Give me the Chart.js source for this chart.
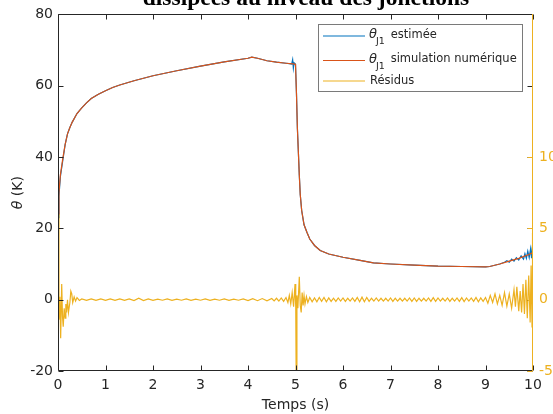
<!DOCTYPE html>
<html><head><meta charset="utf-8">
<script src="https://cdn.jsdelivr.net/npm/chart.js@4/dist/chart.umd.min.js"></script>
<style>html,body{margin:0;padding:0;background:#fff}#wrap{width:553px;height:414px;position:relative}</style>
</head><body><div id="wrap"><canvas id="c" width="553" height="414"></canvas></div>
<script>
const titleText = "dissipées au niveau des jonctions";
const xTitle = "Temps (s)";
const xTicks = [0,1,2,3,4,5,6,7,8,9,10];
const leftTicks = [-20,0,20,40,60,80];
const rightTicks = [-5,0,5,10];
const legendNames = ["estimée", "simulation numérique", "Résidus"];

// simulated junction temperature (K)
const simTime  = [0,0.02,0.05,0.1,0.15,0.2,0.25,0.3,0.4,0.5,0.6,0.7,0.85,1.0,1.15,1.3,1.6,2.0,2.5,3.0,3.5,4.0,4.08,4.2,4.4,4.6,4.8,4.95,5.0,5.02,5.04,5.06,5.08,5.1,5.13,5.18,5.24,5.3,5.4,5.52,5.7,6.0,6.36,6.64,7.0,7.5,8.0,8.5,9.0,9.09,9.3,9.5,9.7,9.9,10.0];
const simValue = [24,30,35,39.5,43.5,46.5,48.3,49.8,52.2,53.8,55.2,56.4,57.6,58.6,59.5,60.2,61.4,62.8,64.2,65.5,66.7,67.7,68.0,67.7,67.0,66.6,66.3,66.1,66.0,58,48,41.5,35,29.5,25,21,18.9,17,15.2,13.8,12.8,11.9,11.0,10.3,10.0,9.7,9.4,9.3,9.2,9.3,10.0,10.8,11.6,12.6,13.2];

// estimated junction temperature (K)
const estTime  = [0,0.02,0.05,0.1,0.15,0.2,0.25,0.3,0.4,0.5,0.6,0.7,0.85,1.0,1.15,1.3,1.6,2.0,2.5,3.0,3.5,4.0,4.08,4.2,4.4,4.6,4.8,4.92,4.94,4.955,4.97,5.0,5.02,5.04,5.06,5.08,5.1,5.13,5.18,5.24,5.3,5.4,5.52,5.7,6.0,6.36,6.64,7.0,7.5,8.0,8.5,9.0,9.09,9.3,9.4,9.45,9.5,9.55,9.6,9.65,9.7,9.75,9.8,9.83,9.86,9.89,9.92,9.95,9.97,9.99,10.0];
const estValue = [23,29,34.5,39,43.5,46.5,48.3,49.8,52.2,53.8,55.2,56.4,57.6,58.6,59.5,60.2,61.4,62.8,64.2,65.5,66.7,67.7,68.0,67.7,67.0,66.6,66.3,66.1,67.3,64.9,66.4,66.0,58,48,41.5,35,29.5,25,21,18.9,17,15.2,13.8,12.8,11.9,11.0,10.3,10.0,9.7,9.4,9.3,9.2,9.3,10.0,10.5,10.9,10.5,11.4,10.8,11.8,11.1,12.3,11.4,12.9,11.6,13.6,11.8,14.3,11.6,15.3,12.0];

// residuals (right axis)
const resTime  = [0,0.02,0.04,0.056,0.078,0.095,0.11,0.13,0.15,0.165,0.18,0.2,0.22,0.25,0.27,0.29,0.31,0.34,0.37,0.4,0.45,
0.5,0.6,0.7,0.8,0.9,1.0,1.1,1.2,1.3,1.4,1.5,1.6,1.7,1.8,1.9,2.0,2.1,2.2,2.3,2.4,2.5,2.6,2.7,2.8,2.9,3.0,3.1,3.2,3.3,3.4,3.5,3.6,3.7,3.8,3.9,4.0,4.1,4.2,4.3,4.4,
4.5,4.55,4.6,4.65,4.7,4.75,4.8,4.84,4.87,4.9,4.93,4.96,4.99,5.005,5.015,5.03,5.05,5.08,5.1,5.12,5.14,5.16,5.18,5.2,5.23,5.26,
5.30,5.35,5.40,5.45,5.50,5.55,5.60,5.65,5.70,5.75,5.80,5.85,5.90,5.95,6.00,6.05,6.10,6.15,6.20,6.25,6.30,6.35,6.40,6.45,6.50,6.55,6.60,6.65,6.70,6.75,6.80,6.85,6.90,6.95,7.00,7.05,7.10,7.15,7.20,7.25,7.30,7.35,7.40,7.45,7.50,7.55,7.60,7.65,7.70,7.75,7.80,7.85,7.90,7.95,8.00,8.05,8.10,8.15,8.20,8.25,8.30,8.35,8.40,8.45,8.50,8.55,8.60,8.65,8.70,8.75,8.80,8.85,8.90,8.95,9.00,
9.05,9.1,9.15,9.2,9.25,9.3,9.35,9.4,9.45,9.5,9.55,9.6,9.63,9.66,9.7,9.73,9.76,9.79,9.82,9.85,9.88,9.91,9.94,9.96,9.98,9.99,10.0];
const resValue = [6.0,-1.4,0.2,-2.7,1.1,-1.2,-1.9,-0.6,-1.3,-0.3,-0.9,0.0,-0.9,-0.2,0.6,0.4,-0.2,0.2,-0.1,0.15,-0.05,
0.05,-0.05,0.06,-0.05,0.05,-0.05,0.05,-0.05,0.05,-0.05,0.06,-0.06,0.1,-0.06,0.05,-0.05,0.04,-0.04,0.05,-0.05,0.04,-0.04,0.05,-0.05,0.04,-0.04,0.05,-0.05,0.04,-0.04,0.05,-0.05,0.04,-0.04,0.05,-0.06,0.07,-0.07,0.08,-0.08,
0.08,-0.08,0.1,-0.1,0.12,-0.12,0.15,-0.2,0.3,-0.3,0.5,-0.5,1.1,-0.5,-6.0,0.3,-0.6,1.6,-0.4,-0.9,0.5,-0.4,0.3,-0.3,0.22,-0.2,
0.15,-0.15,0.12,-0.15,0.15,-0.12,0.15,-0.15,0.12,-0.12,0.1,-0.12,0.12,-0.1,0.12,-0.12,0.1,-0.1,0.12,-0.12,0.15,-0.15,0.18,-0.15,0.15,-0.12,0.1,-0.1,0.12,-0.1,0.1,-0.1,0.1,-0.1,0.12,-0.12,0.1,-0.1,0.1,-0.1,0.1,-0.1,0.12,-0.12,0.12,-0.12,0.1,-0.1,0.1,-0.1,0.12,-0.12,0.14,-0.12,0.12,-0.1,0.1,-0.1,0.12,-0.12,0.1,-0.1,0.12,-0.12,0.14,-0.14,0.12,-0.1,0.12,-0.12,0.15,-0.15,0.12,-0.12,0.15,
-0.25,0.3,-0.2,0.4,-0.3,0.3,-0.4,0.5,-0.45,0.4,-0.6,0.7,-0.5,0.9,-0.8,0.6,-0.9,1.1,-1.0,1.4,-1.3,1.7,-1.6,2.4,-1.9,4.7,-0.6];

const BLUE = '#0072BD', RED = '#D95319', ORANGE = '#EDB120', AX = '#262626';
const FONT = 'DejaVu Sans';

const pts = (t, v) => t.map((x, i) => ({x, y: v[i]}));

const framePlugin = {
  id: 'frame',
  afterDatasetsDraw(chart) {
    const {ctx, chartArea: a, scales: {x, y, y2}} = chart;
    const L = Math.round(a.left) + 0.5, R = Math.round(a.right) - 0.5;
    const T = Math.round(a.top) + 0.5, B = Math.round(a.bottom) - 0.5;
    ctx.save();
    ctx.lineWidth = 1;
    ctx.strokeStyle = AX;
    ctx.beginPath();
    ctx.moveTo(R, T); ctx.lineTo(L, T); ctx.lineTo(L, B); ctx.lineTo(R, B);
    xTicks.forEach(v => {
      const px = Math.round(x.getPixelForValue(v)) + 0.5;
      ctx.moveTo(px, B); ctx.lineTo(px, B - 5);
      ctx.moveTo(px, T); ctx.lineTo(px, T + 5);
    });
    leftTicks.forEach(v => {
      const py = Math.round(y.getPixelForValue(v)) + 0.5;
      ctx.moveTo(L, py); ctx.lineTo(L + 5, py);
      ctx.moveTo(R, py); ctx.lineTo(R - 5, py);
    });
    ctx.stroke();
    ctx.strokeStyle = ORANGE;
    ctx.beginPath();
    ctx.moveTo(R, T - 0.5); ctx.lineTo(R, B + 0.5);
    rightTicks.forEach(v => {
      const py = Math.round(y2.getPixelForValue(v)) + 0.5;
      ctx.moveTo(R, py); ctx.lineTo(R - 5, py);
    });
    ctx.stroke();

    // title (mostly cut off at the top)
    ctx.fillStyle = '#000';
    ctx.font = 'bold 23.5px "Liberation Serif"';
    ctx.textAlign = 'center';
    ctx.textBaseline = 'alphabetic';
    ctx.fillText(titleText, 306, 5);

    // y title
    ctx.save();
    ctx.translate(18, (a.top + a.bottom) / 2);
    ctx.rotate(-Math.PI / 2);
    ctx.fillStyle = AX;
    ctx.textBaseline = 'middle';
    ctx.font = 'italic 14px "' + FONT + '"';
    const w1 = ctx.measureText('θ').width;
    ctx.font = '14px "' + FONT + '"';
    const w2 = ctx.measureText(' (K)').width;
    const s = -(w1 + w2) / 2;
    ctx.textAlign = 'left';
    ctx.font = 'italic 14px "' + FONT + '"';
    ctx.fillText('θ', s, 0);
    ctx.font = '14px "' + FONT + '"';
    ctx.fillText(' (K)', s + w1, 0);
    ctx.restore();

    // legend
    const bx = 318.5, by = 24.5, bw = 204, bh = 67;
    ctx.fillStyle = '#fff';
    ctx.fillRect(bx, by, bw, bh);
    ctx.strokeStyle = '#7a7a7a';
    ctx.lineWidth = 1;
    ctx.strokeRect(bx, by, bw, bh);
    const rows = [36, 60.5, 81];
    const cols = [BLUE, RED, ORANGE];
    ctx.lineWidth = 1.2;
    rows.forEach((ry, i) => {
      ctx.strokeStyle = cols[i];
      ctx.beginPath(); ctx.moveTo(323, ry); ctx.lineTo(365, ry); ctx.stroke();
    });
    ctx.fillStyle = AX;
    ctx.textAlign = 'left';
    ctx.textBaseline = 'middle';
    for (let i = 0; i < 2; i++) {
      const ty = rows[i] - 1;
      ctx.font = 'italic 13px "' + FONT + '"';
      ctx.fillText('θ', 369, ty);
      ctx.font = '9.5px "' + FONT + '"';
      ctx.fillText('J1', 376, ty + 7);
      ctx.font = '11.5px "' + FONT + '"';
      ctx.fillText(' ' + legendNames[i], 387, ty);
    }
    ctx.font = '11.5px "' + FONT + '"';
    ctx.fillText(legendNames[2], 370, rows[2] + 0.5);
    ctx.restore();
  }
};

new Chart(document.getElementById('c'), {
  type: 'line',
  data: {
    datasets: [
      {label: 'θJ1 estimée', data: pts(estTime, estValue), borderColor: BLUE, yAxisID: 'y', order: 3},
      {label: 'θJ1 simulation numérique', data: pts(simTime, simValue), borderColor: RED, yAxisID: 'y', order: 2},
      {label: 'Résidus', data: pts(resTime, resValue), borderColor: ORANGE, yAxisID: 'y2', order: 1}
    ]
  },
  options: {
    responsive: false, animation: false, devicePixelRatio: 1,
    layout: {padding: {top: 13, left: 0, right: 0, bottom: 0}},
    plugins: {legend: {display: false}, tooltip: {enabled: false}, title: {display: false}},
    elements: {point: {radius: 0}, line: {borderWidth: 1.2, tension: 0, fill: false}},
    scales: {
      x: {
        type: 'linear', min: 0, max: 10,
        afterBuildTicks: s => { s.ticks = xTicks.map(v => ({value: v})); },
        afterFit: s => { s.height = 43; },
        grid: {display: false, drawTicks: false}, border: {display: false},
        ticks: {padding: 6, color: AX, font: {family: FONT, size: 14}, maxRotation: 0, autoSkip: false},
        title: {display: true, text: xTitle, color: AX, font: {family: FONT, size: 14}, padding: {top: 2, bottom: 0}}
      },
      y: {
        type: 'linear', position: 'left', min: -20, max: 80,
        afterBuildTicks: s => { s.ticks = leftTicks.map(v => ({value: v})); },
        afterFit: s => { s.width = 58; },
        grid: {display: false, drawTicks: false}, border: {display: false},
        ticks: {padding: 5, color: AX, font: {family: FONT, size: 14}, autoSkip: false}
      },
      y2: {
        type: 'linear', position: 'right', min: -5, max: 20,
        afterBuildTicks: s => { s.ticks = rightTicks.map(v => ({value: v})); },
        afterFit: s => { s.width = 20; },
        grid: {display: false, drawTicks: false}, border: {display: false},
        ticks: {padding: 6, color: ORANGE, font: {family: FONT, size: 14}, autoSkip: false}
      }
    }
  },
  plugins: [framePlugin]
});
</script></body></html>
